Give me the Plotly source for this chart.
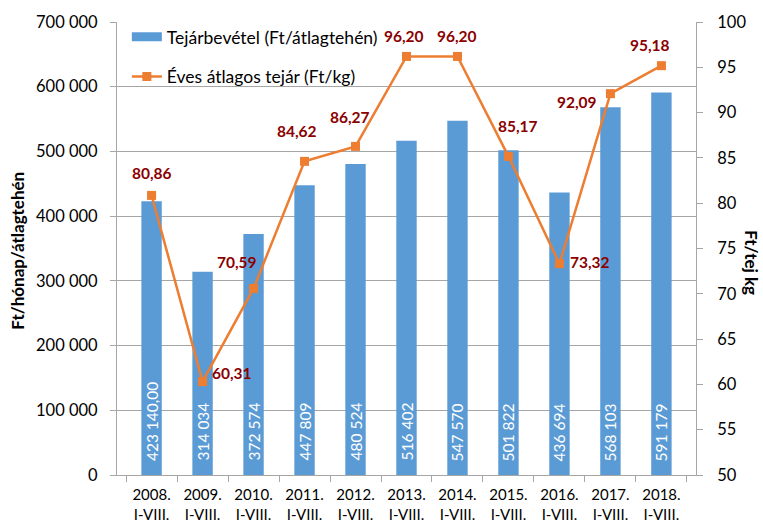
import plotly.graph_objects as go

categories = ["2008.<br>I-VIII.", "2009.<br>I-VIII.", "2010.<br>I-VIII.", "2011.<br>I-VIII.",
              "2012.<br>I-VIII.", "2013.<br>I-VIII.", "2014.<br>I-VIII.", "2015.<br>I-VIII.",
              "2016.<br>I-VIII.", "2017.<br>I-VIII.", "2018.<br>I-VIII."]
revenue = [423140.00, 314034, 372574, 447809, 480524, 516402, 547570, 501822, 436694, 568103, 591179]
revenue_labels = ["423 140,00", "314 034", "372 574", "447 809", "480 524", "516 402",
                  "547 570", "501 822", "436 694", "568 103", "591 179"]
price = [80.86, 60.31, 70.59, 84.62, 86.27, 96.20, 96.20, 85.17, 73.32, 92.09, 95.18]

# label placement (pixel offsets of each price label from its marker) - styling only
label_shift = [(0, 22), (29, 9), (-17, 26), (-8, 30), (-6, 29), (-3, 20),
               (0, 20), (10, 30), (31, 2), (-33, -8), (-11, 21)]

FONT = "Lato"
BLUE = "#5B9BD5"
ORANGE = "#ED7D31"
LABEL = "#8B0000"
GRID = "#A6A6A6"

fig = go.Figure()
fig.add_trace(go.Bar(
    x=categories, y=revenue, name="Tejárbevétel (Ft/átlagtehén)",
    marker=dict(color=BLUE, line=dict(width=0)),
    showlegend=False, hoverinfo="x+y",
))
# legend entry for the bars (wide rectangle swatch like the original)
fig.add_trace(go.Scatter(
    x=[None], y=[None], mode="lines", name="Tejárbevétel (Ft/átlagtehén)",
    line=dict(color=BLUE, width=9), legendgroup="a", hoverinfo="skip",
))
fig.add_trace(go.Scatter(
    x=categories, y=price, name="Éves átlagos tejár (Ft/kg)", yaxis="y2",
    mode="lines+markers", legendgroup="b",
    line=dict(color=ORANGE, width=2.5),
    marker=dict(symbol="square", size=9, color=ORANGE),
    cliponaxis=False,
))

annotations = [
    dict(x=c, y=0, xref="x", yref="y", text=t, textangle=-90, showarrow=False,
         xanchor="center", yanchor="bottom", yshift=12,
         font=dict(color="white", size=15.5, family=FONT))
    for c, t in zip(categories, revenue_labels)
]
annotations += [
    dict(x=c, y=v, xref="x", yref="y2", text=f"<b>{v:.2f}</b>".replace(".", ","),
         showarrow=False, xanchor="center", yanchor="middle", xshift=dx, yshift=dy,
         font=dict(color=LABEL, size=15.5, family=FONT))
    for c, v, (dx, dy) in zip(categories, price, label_shift)
]
annotations.append(dict(text="<b>Ft/hónap/átlagtehén</b>", xref="paper", yref="paper",
                        x=-0.171, y=0.495, textangle=-90, showarrow=False,
                        font=dict(size=17, family=FONT), xanchor="center", yanchor="middle"))
annotations.append(dict(text="<b>Ft/tej kg</b>", xref="paper", yref="paper",
                        x=1.097, y=0.47, textangle=90, showarrow=False,
                        font=dict(size=17, family=FONT), xanchor="center", yanchor="middle"))

fig.update_layout(
    width=763, height=528, autosize=False,
    margin=dict(l=117, r=67, t=22, b=53),
    paper_bgcolor="white", plot_bgcolor="white",
    separators=", ",
    font=dict(family=FONT, size=15, color="black"),
    bargap=0.6,
    showlegend=True,
    legend=dict(x=0.017, y=1.007, xanchor="left", yanchor="top",
                bgcolor="rgba(255,255,255,0)", font=dict(size=17.5, family=FONT),
                itemwidth=30, tracegroupgap=14),
    xaxis=dict(type="category", showline=True, linecolor=GRID, linewidth=1,
               ticks="outside", tickson="boundaries", ticklen=6, tickcolor=GRID,
               ticklabelstandoff=6,
               tickfont=dict(size=15, family=FONT), showgrid=False, automargin=False),
    yaxis=dict(range=[0, 700000], dtick=100000, tickformat=",d", automargin=False,
               showline=True, linecolor=GRID, ticks="outside", ticklen=6,
               ticklabelstandoff=9,
               tickcolor=GRID, showgrid=True, gridcolor=GRID, gridwidth=1,
               tickfont=dict(size=16.5, family=FONT), zeroline=False),
    yaxis2=dict(range=[50, 100], dtick=5, overlaying="y", side="right", automargin=False,
                showline=True, linecolor=GRID, ticks="outside", ticklen=6,
                ticklabelstandoff=11,
                tickcolor=GRID, showgrid=False, zeroline=False,
                tickfont=dict(size=16.5, family=FONT)),
    annotations=annotations,
)
fig.write_html(
    "out.html",
    config={"responsive": False, "displayModeBar": False},
    post_script="document.body.style.margin='0';document.body.style.overflow='hidden';",
)
